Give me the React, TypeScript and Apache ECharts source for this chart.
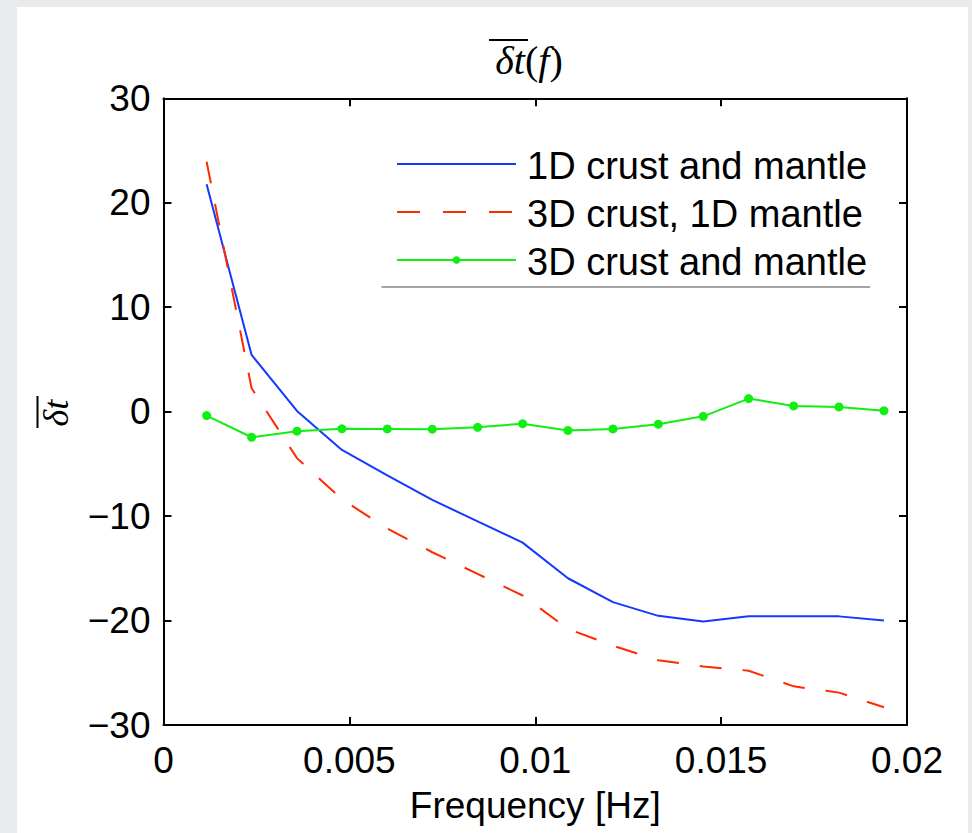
import React, { useEffect, useRef } from "react";
import * as echarts from "echarts";

// Frequencies of the 16 measured points [Hz]
const frequency = [
  0.00116, 0.00237, 0.00359, 0.0048, 0.00602, 0.00723, 0.00845, 0.00966,
  0.01088, 0.01209, 0.01331, 0.01452, 0.01574, 0.01695, 0.01817, 0.01938,
];
// 1D crust and mantle
const crust1DMantle1D = [
  21.77, 5.43, 0.07, -3.67, -6.1, -8.45, -10.5, -12.54,
  -15.95, -18.24, -19.55, -20.1, -19.58, -19.6, -19.6, -20.0,
];
// 3D crust, 1D mantle
const crust3DMantle1D = [
  23.93, 2.24, -4.45, -8.39, -11.2, -13.46, -15.54, -17.6,
  -20.8, -22.4, -23.8, -24.4, -24.8, -26.3, -26.9, -28.3,
];
// 3D crust and mantle
const crust3DMantle3D = [
  -0.38, -2.45, -1.87, -1.64, -1.65, -1.68, -1.5, -1.15,
  -1.8, -1.65, -1.2, -0.45, 1.25, 0.55, 0.45, 0.08,
];

const seriesNames = ["1D crust and mantle", "3D crust, 1D mantle", "3D crust and mantle"];
const xTickLabels = ["0", "0.005", "0.01", "0.015", "0.02"];
const yTickLabels = ["\u221230", "\u221220", "\u221210", "0", "10", "20", "30"];

const SANS = '"Liberation Sans", Arial, Helvetica, sans-serif';
const SERIF = '"Liberation Serif", "DejaVu Serif", serif';

const BLUE = "#1538ff";
const RED = "#ff2a00";
const GREEN = "#11ee11";

export default function App() {
  const ref = useRef<HTMLDivElement>(null);

  useEffect(() => {
    if (!ref.current) return;
    const chart = echarts.init(ref.current, null, { renderer: "svg" });

    const pair = (ys: number[]) => frequency.map((f, i) => [f, ys[i]]);

    const axisLine = { show: true, onZero: false, lineStyle: { color: "#000", width: 2 } };
    const axisTick = { show: true, inside: true, length: 8, lineStyle: { color: "#000", width: 2 } };

    const legendX0 = 397;
    const legendX1 = 516;
    const legendRows = [164, 212, 260];
    const legendTextX = 527;

    chart.setOption({
      animation: false,
      backgroundColor: "transparent",
      grid: { left: 163.5, right: 65, top: 98.3, bottom: 108, containLabel: false },
      xAxis: [
        {
          type: "value",
          min: 0,
          max: 0.02,
          interval: 0.005,
          position: "bottom",
          axisLine,
          axisTick,
          splitLine: { show: false },
          axisLabel: {
            margin: 17,
            fontSize: 37,
            fontFamily: SANS,
            color: "#000",
            formatter: (v: number) => xTickLabels[Math.round(v / 0.005)] ?? "",
          },
          name: "Frequency [Hz]",
          nameLocation: "middle",
          nameGap: 62,
          nameTextStyle: { fontSize: 37, fontFamily: SANS, color: "#000" },
        },
        {
          type: "value",
          min: 0,
          max: 0.02,
          interval: 0.005,
          position: "top",
          axisLine,
          axisTick,
          splitLine: { show: false },
          axisLabel: { show: false },
        },
      ],
      yAxis: [
        {
          type: "value",
          min: -30,
          max: 30,
          interval: 10,
          position: "left",
          axisLine,
          axisTick,
          splitLine: { show: false },
          axisLabel: {
            margin: 13,
            fontSize: 37,
            fontFamily: SANS,
            color: "#000",
            formatter: (v: number) => yTickLabels[Math.round((v + 30) / 10)] ?? "",
          },
        },
        {
          type: "value",
          min: -30,
          max: 30,
          interval: 10,
          position: "right",
          axisLine,
          axisTick,
          splitLine: { show: false },
          axisLabel: { show: false },
        },
      ],
      series: [
        {
          name: seriesNames[0],
          type: "line",
          xAxisIndex: 0,
          yAxisIndex: 0,
          data: pair(crust1DMantle1D),
          symbol: "none",
          lineStyle: { color: BLUE, width: 2 },
          z: 3,
        },
        {
          name: seriesNames[1],
          type: "line",
          xAxisIndex: 0,
          yAxisIndex: 0,
          data: pair(crust3DMantle1D),
          symbol: "none",
          lineStyle: { color: RED, width: 2, type: [22, 21] },
          z: 3,
        },
        {
          name: seriesNames[2],
          type: "line",
          xAxisIndex: 0,
          yAxisIndex: 0,
          data: pair(crust3DMantle3D),
          symbol: "circle",
          symbolSize: 9,
          itemStyle: { color: GREEN },
          lineStyle: { color: GREEN, width: 2 },
          z: 4,
        },
      ],
      graphic: [
        // Title
        {
          type: "text",
          x: 529,
          y: 60,
          style: {
            text: "{i|\u03b4t}{n|(}{i|f}{n|)}",
            align: "center",
            verticalAlign: "middle",
            rich: {
              i: { fontFamily: SERIF, fontStyle: "italic", fontSize: 40, fill: "#000" },
              n: { fontFamily: SERIF, fontSize: 40, fill: "#000" },
            },
          },
        },
        {
          type: "line",
          shape: { x1: 489, y1: 40, x2: 528, y2: 40 },
          style: { stroke: "#000", lineWidth: 2 },
        },
        // Y axis label
        {
          type: "text",
          x: 56,
          y: 413,
          rotation: Math.PI / 2,
          style: {
            text: "\u03b4t",
            align: "center",
            verticalAlign: "middle",
            fontFamily: SERIF,
            fontStyle: "italic",
            fontSize: 36,
            fill: "#000",
          },
        },
        {
          type: "line",
          shape: { x1: 37.5, y1: 396, x2: 37.5, y2: 428 },
          style: { stroke: "#000", lineWidth: 2 },
        },
        // Legend
        {
          type: "line",
          shape: { x1: legendX0, y1: legendRows[0], x2: legendX1, y2: legendRows[0] },
          style: { stroke: BLUE, lineWidth: 2 },
        },
        {
          type: "line",
          shape: { x1: legendX0, y1: legendRows[1], x2: legendX1, y2: legendRows[1] },
          style: { stroke: RED, lineWidth: 2, lineDash: [23, 23] },
        },
        {
          type: "line",
          shape: { x1: legendX0, y1: legendRows[2], x2: legendX1, y2: legendRows[2] },
          style: { stroke: GREEN, lineWidth: 2 },
        },
        {
          type: "circle",
          shape: { cx: (legendX0 + legendX1) / 2, cy: legendRows[2], r: 3.8 },
          style: { fill: GREEN },
        },
        ...seriesNames.map((name, i) => ({
          type: "text",
          x: legendTextX,
          y: legendRows[i] + 2,
          style: {
            text: name,
            align: "left",
            verticalAlign: "middle",
            fontFamily: SANS,
            fontSize: 38,
            fill: "#000",
          },
        })),
        {
          type: "line",
          shape: { x1: 381.5, y1: 287, x2: 870, y2: 287 },
          style: { stroke: "#4a4a4a", lineWidth: 1.2 },
        },
      ],
    });

    return () => chart.dispose();
  }, []);

  return (
    <div style={{ position: "fixed", left: 0, top: 0, width: 972, height: 833, background: "#e9eaec" }}>
      <div style={{ position: "absolute", left: 17, top: 7, width: 951, height: 826, background: "#fff" }} />
      <div ref={ref} style={{ position: "absolute", left: 0, top: 0, width: 972, height: 833 }} />
    </div>
  );
}
